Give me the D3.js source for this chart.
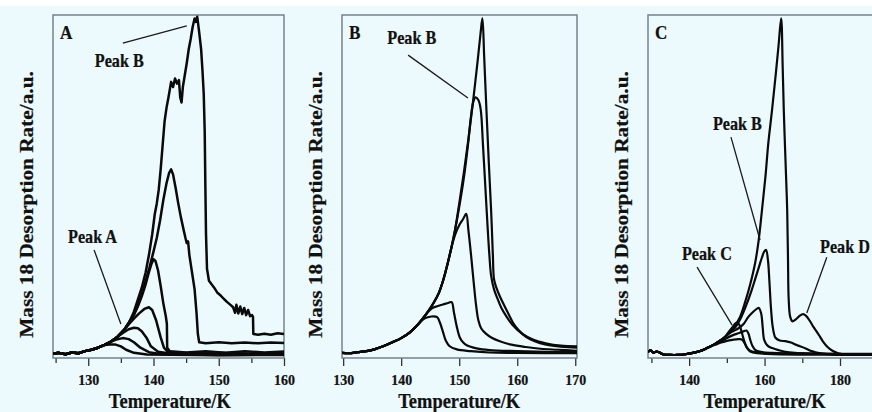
<!DOCTYPE html>
<html>
<head>
<meta charset="utf-8">
<script src="https://cdn.jsdelivr.net/npm/d3@7"></script>
<style>
  html, body { margin: 0; padding: 0; background: #edfafd; }
  svg { display: block; }
  text { font-family: "Liberation Serif", "Times New Roman", serif; font-weight: bold; fill: #111; stroke: #111; stroke-width: 0.25; }
</style>
</head>
<body>
<div id="chart"></div>
<script>
// ---- Panel A: shared leading edge, then each trace ----
const baseA = [[124.6,1.2],[125.5,1.5],[126.5,1.1],[127.5,1.6],[128.5,1.4],[129.5,2],[130.5,2.4],[131.5,3],[132.5,3.8],[133.5,4.8],[134.5,6.2],[135.5,8.2],[136.3,10.5]];
const traceA1 = [[137,13.5],[137.6,17],[138.2,20.5],[138.8,25],[139.3,30],[139.8,36],[140.2,42],[140.5,45],[140.8,49],[141.1,55],[141.4,62],[141.7,69],[142,73],[142.3,76],[142.7,80.5],[143,79],[143.3,81.5],[143.6,80],[143.9,81],[144.1,76],[144.3,74.5],[144.5,79],[144.8,82.5],[145.1,86],[145.4,90],[145.7,93],[146,96.5],[146.3,99],[146.5,98],[146.7,99.5],[147,95],[147.3,90],[147.5,84],[147.7,77],[147.85,66],[147.95,50],[148.05,36],[148.2,26],[148.5,22.5],[148.9,21.5],[149.3,20.5],[149.8,19],[150.3,18.2],[150.8,17.2],[151.3,16.3],[151.8,15.5],[152.2,14.8],[152.5,13.2],[152.7,15.5],[153,13],[153.3,15],[153.6,12.8],[153.9,14.6],[154.2,12.5],[154.5,14],[154.8,12.2],[155.1,12.5],[155.25,12],[155.3,7],[156,6.8],[157,7.1],[158,6.8],[159,7.2],[160,7]];
const traceA2 = [[137,12.8],[137.6,15.5],[138.2,18.5],[138.8,22.5],[139.4,26.5],[140,31],[140.5,35],[141,40],[141.5,46],[142,51],[142.4,54],[142.7,55],[143,53.5],[143.4,49.5],[143.8,45],[144.2,41],[144.6,37.5],[144.9,35],[145.1,33.5],[145.3,34],[145.5,30],[145.9,25],[146.3,20],[146.6,13],[146.8,7],[147,4.6],[148,4.3],[150,4.6],[152,4.3],[154,4.5],[156,4.3],[158,4.5],[160,4.4]];
const traceA3 = [[137,12.5],[137.6,15],[138.2,18],[138.8,21.5],[139.3,25],[139.7,27.5],[140,28.8],[140.3,28.3],[140.7,25.5],[141.1,21],[141.5,16],[141.9,12],[142.05,10],[142.1,3],[142.5,2],[145,1.6],[148,2],[151,1.5],[154,2],[157,1.6],[160,1.9]];
const traceA4 = [[136.3,10],[137,11.5],[137.8,13],[138.6,14.3],[139.3,14.8],[139.8,14],[140.4,11],[141.1,6],[141.6,3],[142.2,1.8],[146,1.3],[150,1.5],[155,1.2],[160,1.4]];
const traceA5 = [[135.3,7.3],[136.2,8.4],[137,8.8],[137.6,8.7],[138.2,7.8],[138.9,6],[139.6,3.4],[140.7,1.8],[143,1.2],[148,1],[153,1.3],[160,1.1]];
const traceA6 = [[134.3,5.4],[135.3,5.8],[136.2,5.5],[137,4.6],[138,3],[139.3,1.7],[141,1.2],[150,0.9],[160,1]];
const traceA7 = [[133.3,3.9],[134.2,3.9],[135,3.4],[135.8,2.4],[137,1.5],[139,1],[150,0.8],[160,0.9]];

// ---- Panel B ----
const baseB = [[129.8,1.5],[131,1.4],[132.5,1.7],[134,2],[135.5,2.6],[137,3.5],[138.5,4.6],[140,5.8],[141.5,7.5],[143,10],[144.4,13],[145.5,15.8],[146.5,19],[147.3,23],[148,27.5],[148.7,32.5],[149.3,37.5]];
const traceB1 = [[150,45],[150.8,54],[151.6,64],[152.4,75],[153.2,87],[153.7,95],[154,99],[154.3,88],[154.7,72],[155.1,57],[155.5,43],[155.8,30],[156,23],[156.4,20.5],[157,18],[157.7,15.5],[158.5,12.8],[159.3,10.2],[160.3,8],[161.5,6.2],[163,4.9],[165,3.9],[167.5,3.3],[170.3,3]];
const traceB2 = [[150,44],[150.8,52.5],[151.5,62],[152,70],[152.4,74.5],[152.8,76],[153.3,75.2],[153.7,72.5],[154.1,62],[154.5,50],[154.9,38],[155.2,30],[155.5,24],[156,20],[156.6,17.3],[157.3,14.5],[158.1,12.2],[159.2,9.6],[160.9,7],[162.8,5.3],[164.9,4.3],[167.5,3.6],[170.3,3.4]];
const traceB3 = [[149.3,36],[150,38.7],[150.7,40.6],[151.2,42],[151.6,37],[152.1,29],[152.5,22],[152.9,15.5],[153.3,11],[153.8,8.6],[154.6,7.1],[155.6,5.9],[157,4.9],[159,3.9],[161.5,3.2],[164,2.7],[167,2.4],[170.3,2.1]];
const traceB4 = [[145.3,14.5],[146.2,15.1],[147.2,15.6],[148.2,16.1],[148.7,16.3],[149.1,13.2],[149.6,9],[150.1,6],[150.7,4.5],[151.3,3.7],[153,2.8],[155.2,2.3],[160,2],[165,1.8],[170.3,1.7]];
const traceB5 = [[144,11.5],[145.2,12.1],[146.2,11.9],[146.7,10.2],[147.2,7.6],[147.7,5],[148.3,3.5],[149.6,2.5],[152,2],[155.2,1.6],[160,1.5],[170.3,1.4]];

// ---- Panel C ----
const baseC = [[129.1,1.8],[129.8,2.2],[130.5,1.6],[131.5,1.9],[133,1.1],[135,0.9],[137,0.9],[139,1.1],[141,1.5],[142.5,1.9],[144,2.5],[145.5,3.3],[147,4.2],[148.3,5.1],[149.5,6.1],[151,7.8]];
const traceC1 = [[152,9.2],[153.5,12],[154.9,16.5],[156.2,21.5],[157.5,27.7],[158.4,34],[159.3,43],[160.2,52.5],[161,62.7],[162,72.5],[162.9,82],[163.7,91],[164.4,99],[164.8,85],[165.1,72],[165.6,56],[166,43],[166.2,30],[166.4,17],[166.8,12],[167.4,10.7],[168.2,11.2],[169.2,12.2],[170.2,12.8],[171,12.3],[172,10.8],[173,9],[174.4,6.7],[175.5,4.8],[176.7,3.2],[178,2.1],[179.5,1.4],[182,1],[186,0.9],[190.6,0.9]];
const traceC2 = [[152,8.6],[153.5,11.2],[155,15],[156.5,19.5],[157.5,23],[158.5,26.5],[159.3,29.3],[159.9,31],[160.4,31.5],[160.9,28.5],[161.3,22],[161.7,14.5],[162.2,8.8],[162.9,5.9],[164,5.1],[165.5,4.9],[167,4.5],[168.5,3.8],[170.9,2.8],[172.5,2],[174.5,1.4],[178,1],[190.6,0.9]];
const traceC3 = [[150.7,7.2],[152,8],[153,8.6],[154.5,10],[155.7,12],[157,13.5],[158,14.4],[158.5,14.6],[159.1,13],[159.5,9],[159.9,5.3],[160.8,3.6],[162,2.9],[164,2.2],[165.5,1.8],[168,1.5],[172.6,1.3],[190.6,1.1]];
const traceC4 = [[148.5,4.9],[150,5.8],[151.5,6.6],[153,7.2],[154.3,7.7],[155.2,8],[155.7,7.2],[156.2,5.3],[156.8,3.5],[157.5,2.4],[159,1.8],[162,1.5],[190.6,1.1]];
const traceC5 = [[150.5,7.6],[151.5,9],[152.2,10],[152.8,10.3],[153.4,9.5],[154,7.3],[154.6,5],[155.2,3.3],[156,2.2],[157.5,1.7],[160,1.4],[190.6,1.2]];
const traceC6 = [[147,3.9],[148.5,4.5],[150,5],[151.5,5.3],[153,5.5],[154,5.4],[154.7,4.3],[155.4,2.9],[156.2,1.9],[158,1.4],[190.6,1]];

// ---- Ticks ----
const majorTicksA = [130, 140, 150, 160];
const minorTicksA = [125, 135, 145, 155];
const majorTicksB = [130, 140, 150, 160, 170];
const minorTicksB = [];
const majorTicksC = [140, 160, 180];
const minorTicksC = [130, 150, 170];

// ---- Labels (data units) ----
const annotationsA = [
    { text: "Peak B", tx: 131.0, ty: 84.8, x1: 135.3, y1: 91.8, x2: 145.1, y2: 96.8 },
    { text: "Peak A", tx: 126.9, ty: 33.5, x1: 130.9, y1: 31.5, x2: 135.0, y2: 9.9 }
];
const annotationsB = [
    { text: "Peak B", tx: 137.6, ty: 91.5, x1: 141.2, y1: 88.3, x2: 151.5, y2: 75.8 }
];
const annotationsC = [
    { text: "Peak B", tx: 146.3, ty: 66.5, x1: 151.1, y1: 64.4, x2: 158.8, y2: 34.4 },
    { text: "Peak C", tx: 138.1, ty: 28.6, x1: 142.1, y1: 26.5, x2: 151.4, y2: 9.6 },
    { text: "Peak D", tx: 174.7, ty: 30.6, x1: 176.5, y1: 29.4, x2: 171.2, y2: 13.1 }
];

const yTitle = "Mass 18 Desorption Rate/a.u.";
const xTitle = "Temperature/K";

const withBase = (base, trace) => base.filter(p => p[0] < trace[0][0]).concat(trace);

const panels = [
    { id: "A", domain: [124.6, 160], range: [53, 284], major: majorTicksA, minor: minorTicksA,
      traces: [traceA1, traceA2, traceA3, traceA4, traceA5, traceA6, traceA7].map(t => withBase(baseA, t)),
      notes: annotationsA, titleAt: 142.5, strokeWidth: 2.5, curve: d3.curveLinear },
    { id: "B", domain: [129.8, 170.3], range: [342, 577], major: majorTicksB, minor: minorTicksB,
      traces: [traceB1, traceB2, traceB3, traceB4, traceB5].map(t => withBase(baseB, t)),
      notes: annotationsB, titleAt: 150, strokeWidth: 2.2, curve: d3.curveCatmullRom.alpha(0.5) },
    { id: "C", domain: [129.1, 190.6], range: [648, 880], major: majorTicksC, minor: minorTicksC,
      traces: [traceC1, traceC2, traceC3, traceC4, traceC5, traceC6].map(t => withBase(baseC, t)),
      notes: annotationsC, titleAt: 160, strokeWidth: 2.2, curve: d3.curveCatmullRom.alpha(0.5) }
];

const width = 872, height = 412;
const plotTop = 15, plotBottom = 358;

const yScale = d3.scaleLinear().domain([0, 100]).range([plotBottom, plotTop]);

const svg = d3.select("#chart")
    .append("svg")
    .attr("width", width)
    .attr("height", height);

// white strip along the top edge
svg.append("rect").attr("width", width).attr("height", 6).attr("fill", "#fff");

const squeeze = (x, y) => `translate(${x},${y}) scale(0.9,1)`;

panels.forEach(p => {
    const xScale = d3.scaleLinear().domain(p.domain).range(p.range);
    const g = svg.append("g").attr("class", "panel-" + p.id);

    // Clip region for the traces
    svg.append("clipPath")
        .attr("id", "clip-" + p.id)
        .append("rect")
        .attr("x", p.range[0])
        .attr("y", plotTop)
        .attr("width", p.range[1] - p.range[0])
        .attr("height", plotBottom - plotTop);

    // Minor ticks
    const minorAxis = d3.axisBottom(xScale).tickValues(p.minor).tickSize(5).tickSizeOuter(0).tickFormat("");
    const mg = g.append("g").attr("transform", "translate(0," + plotBottom + ")").call(minorAxis);
    mg.select(".domain").remove();
    mg.selectAll("line").attr("stroke", "#333").attr("stroke-width", 1.3);

    // Major ticks with labels
    const majorAxis = d3.axisBottom(xScale).tickValues(p.major).tickSize(8).tickSizeOuter(0).tickFormat(d3.format("d"));
    const ag = g.append("g").attr("transform", "translate(0," + plotBottom + ")").call(majorAxis);
    ag.select(".domain").remove();
    ag.selectAll("line").attr("stroke", "#333").attr("stroke-width", 1.3);
    ag.selectAll("text")
        .attr("y", null)
        .attr("dy", null)
        .attr("font-size", 15.5)
        .attr("transform", squeeze(0, 27));

    // Frame
    g.append("rect")
        .attr("x", p.range[0])
        .attr("y", plotTop)
        .attr("width", p.range[1] - p.range[0])
        .attr("height", plotBottom - plotTop)
        .attr("fill", "none")
        .attr("stroke", "#74828e")
        .attr("stroke-width", 1.5);

    // Traces
    const line = d3.line()
        .x(d => xScale(d[0]))
        .y(d => yScale(d[1]))
        .curve(p.curve);

    g.append("g")
        .attr("clip-path", "url(#clip-" + p.id + ")")
        .selectAll("path")
        .data(p.traces)
        .enter()
        .append("path")
        .attr("d", line)
        .attr("fill", "none")
        .attr("stroke", "#0a0a0a")
        .attr("stroke-width", p.strokeWidth)
        .attr("stroke-linejoin", "round");

    // Leader lines and peak labels
    const notes = g.append("g");
    notes.selectAll("line")
        .data(p.notes)
        .enter()
        .append("line")
        .attr("x1", d => xScale(d.x1))
        .attr("y1", d => yScale(d.y1))
        .attr("x2", d => xScale(d.x2))
        .attr("y2", d => yScale(d.y2))
        .attr("stroke", "#1a1a1a")
        .attr("stroke-width", 1.3);
    notes.selectAll("text")
        .data(p.notes)
        .enter()
        .append("text")
        .attr("font-size", 18)
        .attr("transform", d => squeeze(xScale(d.tx), yScale(d.ty)))
        .text(d => d.text);

    // Panel letter
    g.append("text")
        .attr("font-size", 19)
        .attr("transform", squeeze(p.range[0] + 7, plotTop + 24))
        .text(p.id);

    // Axis titles
    g.append("text")
        .attr("font-size", 20.5)
        .attr("text-anchor", "middle")
        .attr("transform", squeeze(xScale(p.titleAt), 407.5))
        .text(xTitle);

    g.append("text")
        .attr("font-size", 21.3)
        .attr("text-anchor", "middle")
        .attr("transform", `translate(${p.range[0] - 20},${(plotTop + plotBottom) / 2 + 18}) scale(0.9,1) rotate(-90)`)
        .text(yTitle);
});
</script>
</body>
</html>
